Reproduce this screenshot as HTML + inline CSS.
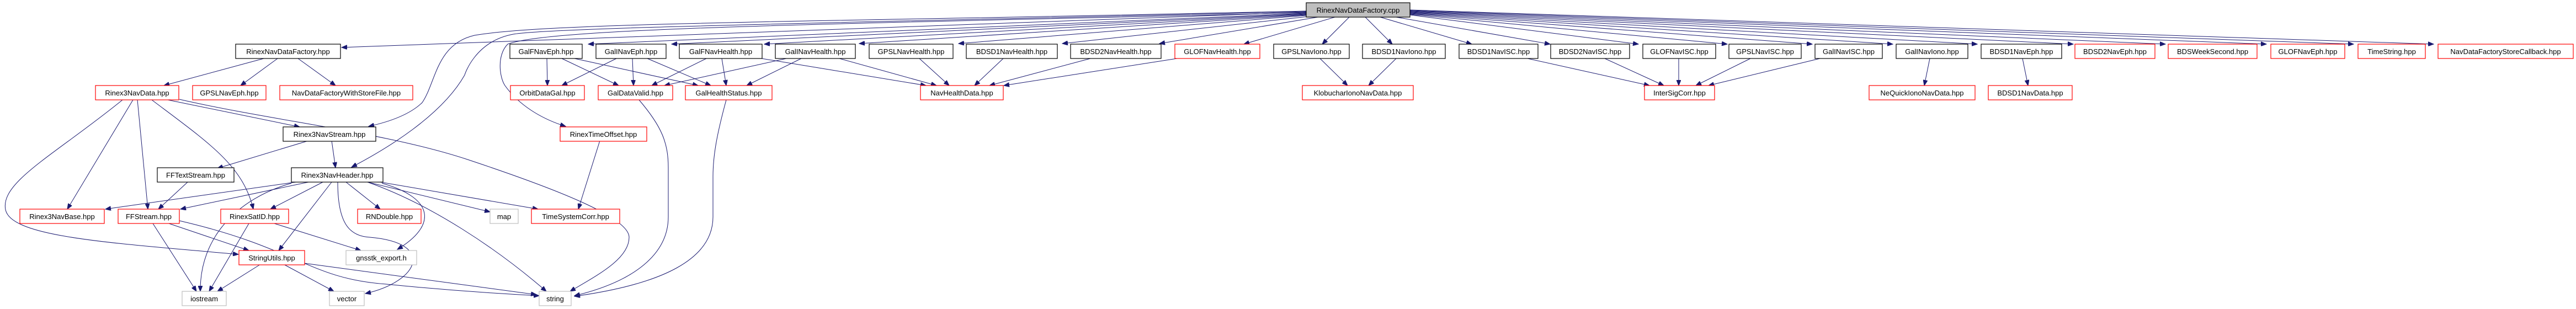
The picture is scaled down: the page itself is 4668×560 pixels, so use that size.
<!DOCTYPE html>
<html><head><meta charset="utf-8"><style>
html,body{margin:0;padding:0;background:#fff;}
svg{display:block}
.b{fill:#fff;stroke:#000;stroke-width:1.2}
.r{fill:#fff;stroke:#f00;stroke-width:1.2}
.g{fill:#fff;stroke:#bfbfbf;stroke-width:1.2}
.c{fill:#bfbfbf;stroke:#000;stroke-width:1.2}
text{font-family:"Liberation Sans",sans-serif;font-size:13px;fill:#000;text-anchor:middle}
path{fill:none;stroke:#191970;stroke-width:1;marker-end:url(#a)}
</style></head><body>
<svg width="4668" height="560" viewBox="0 0 4668 560" xmlns="http://www.w3.org/2000/svg">
<defs><marker id="a" markerUnits="userSpaceOnUse" markerWidth="11" markerHeight="8" refX="10" refY="4" orient="auto"><polygon points="0,0 10,4 0,8" fill="#191970" stroke="#191970"/></marker></defs>

<!-- edges from cpp -->
<path d="M2367,22 L619,86"/>
<path d="M2367,24 L1066,80"/>
<path d="M2367,25 L1217,80"/>
<path d="M2367,26 L1385,80"/>
<path d="M2367,27 L1557,79"/>
<path d="M2367,28 L1737,79"/>
<path d="M2370,30 L1925,79"/>
<path d="M2388,31 L2101,79"/>
<path d="M2419,31 L2254,80"/>
<path d="M2445,31 L2396,80"/>
<path d="M2474,31 L2523,80"/>
<path d="M2501,31 L2667,80"/>
<path d="M2530,31 L2809,80"/>
<path d="M2555,27 L2969,80"/>
<path d="M2555,26 L3130,80"/>
<path d="M2555,25 L3284,80"/>
<path d="M2555,24 L3430,80"/>
<path d="M2555,23 L3583,80"/>
<path d="M2555,22 L3757,80"/>
<path d="M2555,21 L3924,80"/>
<path d="M2555,20 L4107,80"/>
<path d="M2555,19 L4265,80"/>
<path d="M2555,18 L4410,80"/>
<path d="M2367,20 C1500,40 1000,40 860,64 C790,80 790,150 765,186 C740,210 700,222 668,229"/>
<path d="M2367,21 C1500,42 1000,50 930,62 C860,75 842,136 842,136 C800,210 700,270 637,303"/>
<path d="M2367,23 C1500,44 1000,50 920,80 C900,100 905,140 915,155 C940,190 980,215 1025,229"/>

<!-- RinexNavDataFactory.hpp -->
<path d="M478,106 L297,155"/>
<path d="M503,106 L436,155"/>
<path d="M540,106 L608,155"/>
<!-- Rinex3NavData -->
<path d="M241,181 L122,379"/>
<path d="M249,181 L268,379"/>
<path d="M275,181 C380,260 440,300 459,379"/>
<path d="M304,181 L543,230"/>
<path d="M325,180 C500,220 700,240 850,290 C1000,340 1140,393 1140,430 C1140,470 1080,500 1033,528"/>
<path d="M222,181 C100,280 0,330 10,380 C20,430 200,440 432,461"/>
<!-- Rinex3NavStream -->
<path d="M559,255 L394,305"/>
<path d="M601,255 L608,304"/>
<!-- FFTextStream -->
<path d="M340,330 L287,379"/>
<!-- Rinex3NavHeader -->
<path d="M536,330 L191,379"/>
<path d="M559,330 L327,379"/>
<path d="M528,332 C430,360 362,430 363,528"/>
<path d="M585,330 L490,379"/>
<path d="M601,330 L505,454"/>
<path d="M612,330 C612,400 630,428 670,430 C790,440 760,510 662,532"/>
<path d="M627,330 L689,379"/>
<path d="M666,330 L888,384"/>
<path d="M689,330 L975,379"/>
<path d="M692,332 C790,360 790,410 720,452"/>
<path d="M666,330 C780,370 900,450 990,528"/>
<!-- FFStream -->
<path d="M277,405 L356,528"/>
<path d="M306,405 L451,454"/>
<path d="M325,400 C540,450 560,505 700,515 C800,525 900,532 977,536"/>
<!-- RinexSatID -->
<path d="M451,405 L379,528"/>
<path d="M497,405 L654,454"/>
<!-- StringUtils -->
<path d="M472,479 L394,528"/>
<path d="M514,479 L605,528"/>
<path d="M551,477 L972,534"/>
<!-- RinexTimeOffset -->
<path d="M1087,255 L1048,379"/>
<!-- Gal eph -->
<path d="M991,106 L992,155"/>
<path d="M1018,106 L1121,155"/>
<path d="M1041,106 L1265,155"/>
<path d="M1117,106 L1018,155"/>
<path d="M1146,106 L1148,155"/>
<path d="M1173,106 L1288,155"/>
<!-- health -->
<path d="M1280,106 L1181,155"/>
<path d="M1308,106 L1316,155"/>
<path d="M1380,106 L1678,155"/>
<path d="M1425,106 L1204,155"/>
<path d="M1452,106 L1353,155"/>
<path d="M1521,106 L1697,155"/>
<path d="M1666,106 L1720,155"/>
<path d="M1818,106 L1766,155"/>
<path d="M1976,106 L1793,155"/>
<path d="M2133,106 L1819,155"/>
<path d="M1158,181 C1200,230 1211,260 1211,304 L1211,393 C1211,460 1150,510 1041,536"/>
<path d="M1316,181 C1300,240 1292,280 1292,320 L1292,393 C1292,470 1200,515 1041,537"/>
<!-- iono / isc -->
<path d="M2392,106 L2442,155"/>
<path d="M2530,106 L2480,155"/>
<path d="M2768,106 L2989,155"/>
<path d="M2908,106 L3015,155"/>
<path d="M3042,106 L3042,155"/>
<path d="M3172,106 L3073,155"/>
<path d="M3298,106 L3096,155"/>
<path d="M3497,106 L3487,155"/>
<path d="M3665,106 L3675,155"/>

<!-- nodes -->
<rect class="c" x="2367" y="5" width="188" height="26"/><text x="2461" y="23">RinexNavDataFactory.cpp</text>

<rect class="b" x="427" y="80" width="190" height="26"/><text x="522" y="98">RinexNavDataFactory.hpp</text>
<rect class="b" x="924" y="80" width="131" height="26"/><text x="989.5" y="98">GalFNavEph.hpp</text>
<rect class="b" x="1080" y="80" width="127" height="26"/><text x="1143.5" y="98">GalINavEph.hpp</text>
<rect class="b" x="1231" y="80" width="150" height="26"/><text x="1306" y="98">GalFNavHealth.hpp</text>
<rect class="b" x="1405" y="80" width="145" height="26"/><text x="1477.5" y="98">GalINavHealth.hpp</text>
<rect class="b" x="1575" y="80" width="152" height="26"/><text x="1651" y="98">GPSLNavHealth.hpp</text>
<rect class="b" x="1751" y="80" width="165" height="26"/><text x="1833.5" y="98">BDSD1NavHealth.hpp</text>
<rect class="b" x="1940" y="80" width="164" height="26"/><text x="2022" y="98">BDSD2NavHealth.hpp</text>
<rect class="r" x="2129" y="80" width="154" height="26"/><text x="2206" y="98">GLOFNavHealth.hpp</text>
<rect class="b" x="2308" y="80" width="137" height="26"/><text x="2376.5" y="98">GPSLNavIono.hpp</text>
<rect class="b" x="2469" y="80" width="150" height="26"/><text x="2544" y="98">BDSD1NavIono.hpp</text>
<rect class="b" x="2644" y="80" width="143" height="26"/><text x="2715.5" y="98">BDSD1NavISC.hpp</text>
<rect class="b" x="2810" y="80" width="143" height="26"/><text x="2881.5" y="98">BDSD2NavISC.hpp</text>
<rect class="b" x="2977" y="80" width="132" height="26"/><text x="3043" y="98">GLOFNavISC.hpp</text>
<rect class="b" x="3133" y="80" width="131" height="26"/><text x="3198.5" y="98">GPSLNavISC.hpp</text>
<rect class="b" x="3289" y="80" width="122" height="26"/><text x="3350" y="98">GalINavISC.hpp</text>
<rect class="b" x="3436" y="80" width="130" height="26"/><text x="3501" y="98">GalINavIono.hpp</text>
<rect class="b" x="3590" y="80" width="146" height="26"/><text x="3663" y="98">BDSD1NavEph.hpp</text>
<rect class="r" x="3760" y="80" width="145" height="26"/><text x="3832.5" y="98">BDSD2NavEph.hpp</text>
<rect class="r" x="3929" y="80" width="161" height="26"/><text x="4009.5" y="98">BDSWeekSecond.hpp</text>
<rect class="r" x="4115" y="80" width="134" height="26"/><text x="4182" y="98">GLOFNavEph.hpp</text>
<rect class="r" x="4273" y="80" width="122" height="26"/><text x="4334" y="98">TimeString.hpp</text>
<rect class="r" x="4418" y="80" width="245" height="26"/><text x="4540.5" y="98">NavDataFactoryStoreCallback.hpp</text>

<rect class="r" x="173" y="155" width="151" height="26"/><text x="248.5" y="173">Rinex3NavData.hpp</text>
<rect class="r" x="349" y="155" width="133" height="26"/><text x="415.5" y="173">GPSLNavEph.hpp</text>
<rect class="r" x="507" y="155" width="241" height="26"/><text x="627.5" y="173">NavDataFactoryWithStoreFile.hpp</text>
<rect class="r" x="925" y="155" width="134" height="26"/><text x="992" y="173">OrbitDataGal.hpp</text>
<rect class="r" x="1084" y="155" width="135" height="26"/><text x="1151.5" y="173">GalDataValid.hpp</text>
<rect class="r" x="1242" y="155" width="157" height="26"/><text x="1320.5" y="173">GalHealthStatus.hpp</text>
<rect class="r" x="1668" y="155" width="150" height="26"/><text x="1743" y="173">NavHealthData.hpp</text>
<rect class="r" x="2360" y="155" width="201" height="26"/><text x="2460.5" y="173">KlobucharIonoNavData.hpp</text>
<rect class="r" x="2980" y="155" width="127" height="26"/><text x="3043.5" y="173">InterSigCorr.hpp</text>
<rect class="r" x="3387" y="155" width="192" height="26"/><text x="3483" y="173">NeQuickIonoNavData.hpp</text>
<rect class="r" x="3603" y="155" width="152" height="26"/><text x="3679" y="173">BDSD1NavData.hpp</text>

<rect class="b" x="513" y="230" width="168" height="26"/><text x="597" y="248">Rinex3NavStream.hpp</text>
<rect class="r" x="1015" y="230" width="157" height="26"/><text x="1093.5" y="248">RinexTimeOffset.hpp</text>

<rect class="b" x="285" y="304" width="139" height="26"/><text x="354.5" y="322">FFTextStream.hpp</text>
<rect class="b" x="528" y="304" width="166" height="26"/><text x="611" y="322">Rinex3NavHeader.hpp</text>

<rect class="r" x="36" y="379" width="153" height="26"/><text x="112.5" y="397">Rinex3NavBase.hpp</text>
<rect class="r" x="214" y="379" width="111" height="26"/><text x="269.5" y="397">FFStream.hpp</text>
<rect class="r" x="400" y="379" width="123" height="26"/><text x="461.5" y="397">RinexSatID.hpp</text>
<rect class="r" x="648" y="379" width="115" height="26"/><text x="705.5" y="397">RNDouble.hpp</text>
<rect class="g" x="888" y="379" width="51" height="26"/><text x="913.5" y="397">map</text>
<rect class="r" x="963" y="379" width="160" height="26"/><text x="1043" y="397">TimeSystemCorr.hpp</text>

<rect class="r" x="433" y="454" width="119" height="26"/><text x="492.5" y="472">StringUtils.hpp</text>
<rect class="g" x="627" y="454" width="128" height="26"/><text x="691" y="472">gnsstk_export.h</text>

<rect class="g" x="330" y="528" width="80" height="26"/><text x="370" y="546">iostream</text>
<rect class="g" x="597" y="528" width="63" height="26"/><text x="628.5" y="546">vector</text>
<rect class="g" x="977" y="528" width="58" height="26"/><text x="1006" y="546">string</text>
</svg>
</body></html>
